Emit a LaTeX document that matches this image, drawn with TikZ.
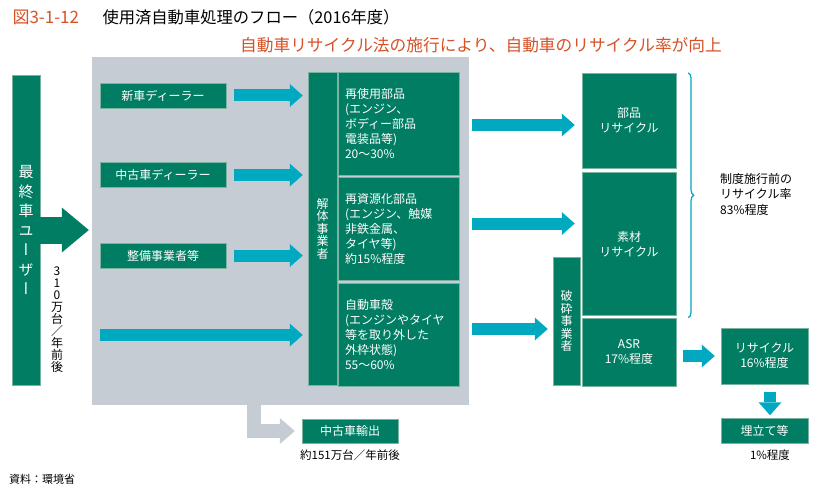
\documentclass[tikz,border=0pt]{standalone}
\usepackage{fontspec}
\setmainfont{Noto Sans CJK JP}
\newfontfamily\vjp[RawFeature=+vert]{Noto Sans CJK JP}
\usepackage{tikz}
\usetikzlibrary{arrows.meta, positioning, decorations.pathreplacing}
\definecolor{boxgreen}{RGB}{0,125,98}
\definecolor{boxedge}{RGB}{120,180,160}
\definecolor{flowcyan}{RGB}{0,168,192}
\definecolor{panelgray}{RGB}{197,204,212}
\definecolor{titleorange}{RGB}{214,82,40}

\begin{document}
\begin{tikzpicture}[x=1pt, y=-1pt,
  box/.style={rectangle, fill=boxgreen, draw=boxedge, line width=0.5pt, text=white, align=center,
              inner sep=0pt, font=\fontsize{12}{15}\selectfont},
  vbox/.style={box, font=\vjp\fontsize{12}{12.5}\selectfont},
  partbox/.style={box, align=left, text width=107pt, inner xsep=7pt,
                  minimum width=121pt, minimum height=103pt, font=\fontsize{12}{15}\selectfont},
  recbox/.style={box, minimum width=94pt},
  note/.style={inner sep=0pt, font=\fontsize{11.5}{15}\selectfont},
  flow/.style={draw=flowcyan, line width=12pt, -{Triangle[length=13pt, width=23pt, line width=0pt]}},
  bigarrow/.style={draw=boxgreen, line width=27pt, -{Triangle[length=27pt, width=45pt, line width=0pt]}},
  grayarrow/.style={draw=panelgray, line width=14pt, -{Triangle[length=15pt, width=26pt, line width=0pt]}},
  node distance=2pt
]
\fill[white] (0,0) rectangle (828,495);
\useasboundingbox (0,0) rectangle (828,495);

% title
\node[anchor=west, text=titleorange, font=\fontsize{17}{19}\selectfont] (fignum) at (9,17) {図3-1-12};
\node[anchor=west, font=\fontsize{16.3}{18}\selectfont] (title) at (99,17) {使用済自動車処理のフロー（2016年度）};
\node[text=titleorange, font=\fontsize{16.7}{18}\selectfont] (headline) at (481,45) {自動車リサイクル法の施行により、自動車のリサイクル率が向上};

% grey area
\node[fill=panelgray, minimum width=377pt, minimum height=348pt, inner sep=0pt] (panel) at (280.5,231) {};

\node[vbox, minimum width=28pt, minimum height=310pt, font=\vjp\fontsize{15}{19.5}\selectfont] (user) at (26,230) {最\\終\\車\\ユ\\ー\\ザ\\ー};
\node[note, align=center, font=\vjp\fontsize{12}{12}\selectfont] (amount) at (57,320) {3\\1\\0\\万\\台\\／\\年\\前\\後};

\node[box, minimum width=126pt, minimum height=25pt] (newdealer) at (163,95.5) {新車ディーラー};
\node[box, minimum width=126pt, minimum height=25pt, below=54pt of newdealer] (useddealer) {中古車ディーラー};
\node[box, minimum width=126pt, minimum height=25pt, below=55pt of useddealer] (garage) {整備事業者等};
\coordinate (direct) at (100,335);

\node[vbox, minimum width=29pt, minimum height=313pt] (dismantler) at (322.5,228.5) {解\\体\\事\\業\\者};
\node[partbox] (reuse) at (398.5,123.5) {再使用部品\\(エンジン、\\ボディー部品\\電装品等)\\20～30\%};
\node[partbox, below=of reuse] (recov) {再資源化部品\\(エンジン、触媒\\非鉄金属、\\タイヤ等)\\約15\%程度};
\node[partbox, below=of recov] (shell) {自動車殻\\(エンジンやタイヤ\\等を取り外した\\外枠状態)\\55～60\%};

\node[recbox, minimum height=95pt] (partsrec) at (629,120.5) {部品\\リサイクル};
\node[recbox, minimum height=143pt, below=4pt of partsrec] (matrec) {素材\\リサイクル};
\node[recbox, minimum height=68pt, below=of matrec] (asr) {ASR\\17\%程度};
\node[vbox, minimum width=27pt, minimum height=128pt] (crusher) at (566.5,321) {破\\砕\\事\\業\\者};

\node[note, anchor=west, align=left, font=\fontsize{12}{15.5}\selectfont] (before) at (720,194) {制度施行前の\\リサイクル率\\83\%程度};

\node[box, minimum width=87pt, minimum height=56pt] (recyc) at (764.5,356) {リサイクル\\16\%程度};
\node[box, minimum width=87pt, minimum height=25pt, below=34pt of recyc] (landfill) {埋立て等};
\node[note, below=6pt of landfill, xshift=5.5pt] (landfillshare) {1\%程度};

\node[box, minimum width=96pt, minimum height=24pt] (export) at (350,431) {中古車輸出};
\node[note, below=6pt of export] (exportshare) {約151万台／年前後};

\node[note, anchor=west, font=\fontsize{11}{13}\selectfont] (source) at (9,479) {資料：環境省};

% arrows
\draw[bigarrow, shorten >=3pt] (user.east) -- (user.east -| panel.west);
\foreach \d in {newdealer, useddealer, garage}
  \draw[flow, shorten <=8pt, shorten >=5pt] (\d.east) -- (\d.east -| dismantler.west);
\draw[flow, shorten >=5pt] (direct) -- (direct -| dismantler.west);

\draw[flow, shorten <=13pt, shorten >=7pt] ([yshift=-1.5pt]reuse.east) -- ([yshift=-1.5pt]reuse.east -| partsrec.west);
\draw[flow, shorten <=13pt, shorten >=7pt] ([yshift=5.5pt]recov.east) -- ([yshift=5.5pt]recov.east -| matrec.west);
\draw[flow, shorten <=13pt, shorten >=5pt] ([yshift=5.5pt]shell.east) -- ([yshift=5.5pt]shell.east -| crusher.west);

\draw[flow, shorten <=7pt, shorten >=6pt] (recyc.west -| asr.east) -- (recyc.west);
\draw[flow, shorten <=8pt, shorten >=3pt] ([xshift=5.5pt]recyc.south) -- ([xshift=5.5pt]landfill.north);

\coordinate (exportstart) at (253.5,405);
\draw[grayarrow, shorten >=7pt] (exportstart) |- (export.west);

\draw[flowcyan, line width=1.2pt, decorate, decoration={brace, amplitude=5.5pt}]
  ([xshift=12pt]partsrec.north east) -- ([xshift=12pt, yshift=-2pt]matrec.south east);
\end{tikzpicture}
\end{document}
